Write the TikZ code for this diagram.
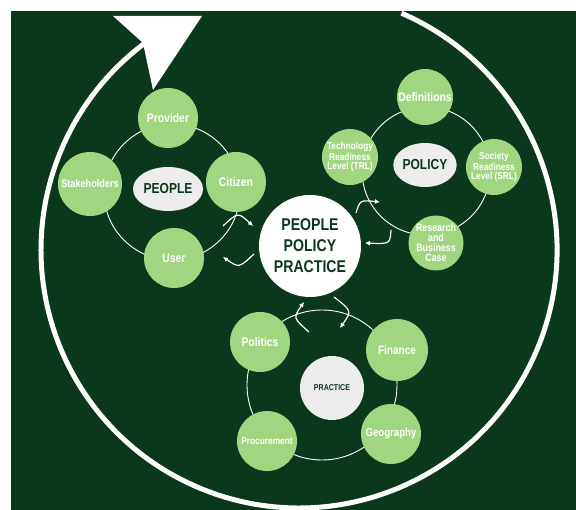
\documentclass[tikz,border=0pt]{standalone}
\usepackage{fontspec}
\setmainfont[FakeStretch=0.83]{Liberation Sans}
\usetikzlibrary{arrows.meta,shapes.geometric}

\definecolor{darkbg}{RGB}{10,56,29}
\definecolor{leafgreen}{RGB}{161,214,128}
\definecolor{palegrey}{RGB}{236,236,236}

\tikzset{
  item/.style={circle,fill=leafgreen,minimum size=60pt,inner sep=0pt,align=center,
    text=white,font=\bfseries\fontsize{12.5}{13}\selectfont},
  hub/.style={ellipse,fill=palegrey,minimum width=70pt,minimum height=44pt,inner sep=0pt,
    text=darkbg,font=\bfseries\fontsize{14.5}{15}\selectfont},
  ring/.style={white,line width=0.9pt},
  swap/.style={white,line width=1.2pt,-{Latex[length=5pt,width=5pt]}}
}

\begin{document}
\begin{tikzpicture}
        [x=1pt,y=-1pt]
        \useasboundingbox (0,0) rectangle (576,510);
        \fill[darkbg] (11,11) rectangle (576,510);

        % outer cycle
        \coordinate (C0) at (401.5,13.2);
        \draw[white,line width=5pt]
          (C0) arc[start angle=-66.6,end angle=236,radius=258];
        % big head
        \fill[white] (202,16) -- (113,16) -- (143,43) -- (153,90) -- cycle;

        % rings
        \draw[ring] (172,192) circle[radius=68];
        \draw[ring] (426,171) circle[radius=64];
        \draw[ring] (322,385) circle[radius=75];

        % P_1: people
        \node[item]                  (Prov)  at (168,118) {Provider};
        \node[item,minimum size=64pt,font=\bfseries\fontsize{11}{12}\selectfont]
                                     (Stake) at (90,184)  {Stakeholders};
        \node[item]                  (Citi)  at (236,182) {Citizen};
        \node[item]                  (User)  at (174,258) {User};
        \node[hub]                   (People) at (168,189) {PEOPLE};

        % P_2: policy
        \node[item,minimum size=56pt,font=\bfseries\fontsize{12.4}{13}\selectfont]
                                     (Defs)  at (425,97)  {Definitions};
        \node[item,minimum size=56pt,font=\bfseries\fontsize{10}{9}\selectfont]
                                     (TRL)   at (350,157) {Technology\\Readiness\\Level (TRL)};
        \node[item,minimum size=56pt,font=\bfseries\fontsize{10}{9}\selectfont]
                                     (SRL)   at (494,167) {Society\\Readiness\\Level (SRL)};
        \node[item,minimum size=54pt,font=\bfseries\fontsize{10.7}{10}\selectfont]
                                     (Res)   at (436,243) {Research\\and\\Business\\Case};
        \node[hub,minimum width=60pt] (Policy) at (425,165) {POLICY};

        % P_3: practice
        \node[item]                  (Poli)  at (260,342) {Politics};
        \node[item,minimum size=62pt,font=\bfseries\fontsize{12.1}{13}\selectfont]
                                     (Fin)   at (397,350) {Finance};
        \node[item,font=\bfseries\fontsize{11.6}{12}\selectfont]
                                     (Geo)   at (391,434) {Geography};
        \node[item,font=\bfseries\fontsize{10}{11}\selectfont]
                                     (Proc)  at (267,441) {Procurement};
        \node[hub,circle,minimum size=64pt,font=\bfseries\fontsize{8.5}{9}\selectfont]
                                     (Practice) at (332,388) {PRACTICE};

        % centre
        \node[circle,fill=white,minimum size=102pt,inner sep=0pt,align=center,text=darkbg,
          font=\bfseries\fontsize{17}{21}\selectfont]
                                     (Core)  at (310,246) {PEOPLE\\POLICY\\PRACTICE};

        % exchange arrows
        \coordinate (A1) at (223,226);  \coordinate (B1) at (253,226);
        \coordinate (A2) at (254,254);  \coordinate (B2) at (223,257);
        \coordinate (A3) at (356,213);  \coordinate (B3) at (380,202);
        \coordinate (A4) at (391,230);  \coordinate (B4) at (365,243);
        \coordinate (A5) at (309,332);  \coordinate (B5) at (304,302);
        \coordinate (A6) at (334,297);  \coordinate (B6) at (340,328);

        \draw[swap] (A1) .. controls (238,212) .. (B1);
        \draw[swap] (A2) .. controls (239,268) .. (B2);
        \draw[swap] (A3) .. controls (360,200) .. (B3);
        \draw[swap] (A4) .. controls (390,244) .. (B4);
        \draw[swap] (A5) .. controls (293,318) .. (B5);
        \draw[swap] (A6) .. controls (352,311) .. (B6);
    \end{tikzpicture}
\end{document}
